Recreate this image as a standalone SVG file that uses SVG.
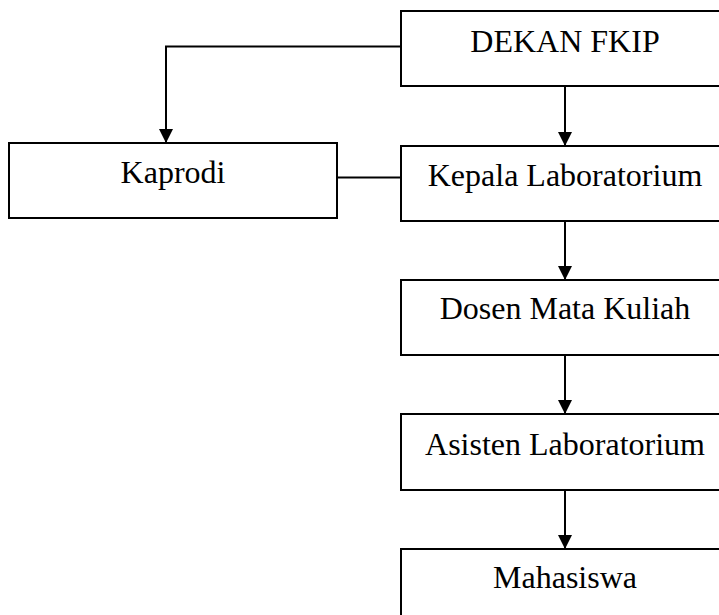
<svg xmlns="http://www.w3.org/2000/svg" width="719" height="615" viewBox="0 0 719 615">
<defs>
<marker id="arr" markerWidth="14" markerHeight="15" refX="14" refY="7" orient="auto" markerUnits="userSpaceOnUse">
<path d="M0,0 L14,7 L0,14 Z" fill="#000"/>
</marker>
<style>
.box{fill:#fff;stroke:#000;stroke-width:2}
.lbl{font-family:"Liberation Serif","Times New Roman",serif;font-size:32px;fill:#000;text-anchor:middle}
.con{fill:none;stroke:#000;stroke-width:2}
</style>
</defs>
<rect width="719" height="615" fill="#fff"/>
<g id="connectors">
<path class="con" d="M401,46.5 H166 V143" marker-end="url(#arr)"/>
<path class="con" d="M337,177.5 H401"/>
<path class="con" d="M565,86 V146" marker-end="url(#arr)"/>
<path class="con" d="M565,221 V280" marker-end="url(#arr)"/>
<path class="con" d="M565,355 V414" marker-end="url(#arr)"/>
<path class="con" d="M565,490 V549" marker-end="url(#arr)"/>
</g>
<g id="dekan">
<rect class="box" x="401" y="11" width="330" height="75"/>
<text class="lbl" x="565" y="52">DEKAN FKIP</text>
</g>
<g id="kaprodi">
<rect class="box" x="9" y="143" width="328" height="75"/>
<text class="lbl" x="173" y="183">Kaprodi</text>
</g>
<g id="kepala">
<rect class="box" x="401" y="146" width="330" height="75"/>
<text class="lbl" x="565" y="186">Kepala Laboratorium</text>
</g>
<g id="dosen">
<rect class="box" x="401" y="280" width="330" height="75"/>
<text class="lbl" x="565" y="319">Dosen Mata Kuliah</text>
</g>
<g id="asisten">
<rect class="box" x="401" y="414" width="330" height="76"/>
<text class="lbl" x="565" y="455">Asisten Laboratorium</text>
</g>
<g id="mahasiswa">
<rect class="box" x="401" y="549" width="330" height="75"/>
<text class="lbl" x="565" y="588">Mahasiswa</text>
</g>
</svg>
